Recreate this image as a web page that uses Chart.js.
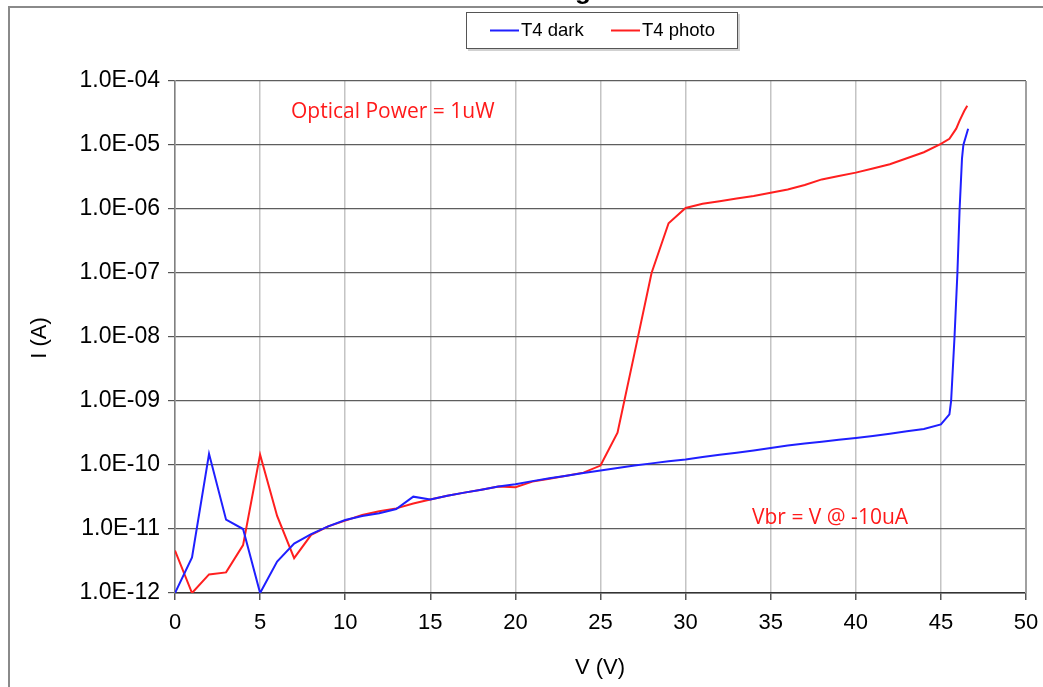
<!DOCTYPE html>
<html>
<head>
<meta charset="utf-8">
<script src="https://cdn.jsdelivr.net/npm/chart.js@4"></script>
<style>
html,body{margin:0;padding:0;background:#fff;}
canvas{display:block;}
</style>
</head>
<body>
<canvas id="c" width="1043" height="687"></canvas>
<script>
// ---- data ----
const vDark = [0,1,2,3,4,5,6,7,8,9,10,11,12,13,14,15,16,17,18,19,20,21,22,23,24,25,26,27,28,29,30,31,32,33,34,35,36,37,38,39,40,41,42,43,44,45,45.5,45.6,45.8,45.97,46.1,46.24,46.32,46.6];
const iDark = [1.0e-12,3.6e-12,1.5e-10,1.4e-11,1.0e-11,1.0e-12,3.1e-12,5.9e-12,8.3e-12,1.1e-11,1.38e-11,1.6e-11,1.76e-11,2.05e-11,3.2e-11,2.9e-11,3.3e-11,3.7e-11,4.1e-11,4.6e-11,5.0e-11,5.6e-11,6.2e-11,6.8e-11,7.5e-11,8.2e-11,9.0e-11,9.8e-11,1.06e-10,1.14e-10,1.22e-10,1.33e-10,1.44e-10,1.55e-10,1.69e-10,1.85e-10,2.01e-10,2.16e-10,2.3e-10,2.47e-10,2.65e-10,2.85e-10,3.09e-10,3.36e-10,3.65e-10,4.3e-10,6.2e-10,1.0e-9,1.0e-8,1.0e-7,1.0e-6,6.2e-6,1.0e-5,1.8e-5];
const vPhoto = [0,1,2,3,4,5,6,7,8,9,10,11,12,13,14,15,16,17,18,19,20,21,22,23,24,25,26,27,28,29,30,31,32,33,34,35,36,37,38,39,40,41,42,43,44,45,45.5,45.9,46.1,46.37,46.55];
const iPhoto = [4.6e-12,1.0e-12,1.95e-12,2.1e-12,5.6e-12,1.45e-10,1.6e-11,3.5e-12,8.1e-12,1.1e-11,1.35e-11,1.65e-11,1.9e-11,2.1e-11,2.5e-11,2.9e-11,3.3e-11,3.7e-11,4.1e-11,4.6e-11,4.5e-11,5.5e-11,6.1e-11,6.8e-11,7.6e-11,9.8e-11,3.2e-10,5.6e-9,1.0e-7,6.0e-7,1.04e-6,1.21e-6,1.32e-6,1.46e-6,1.6e-6,1.79e-6,2.02e-6,2.37e-6,2.9e-6,3.28e-6,3.7e-6,4.28e-6,5.0e-6,6.2e-6,7.7e-6,1.04e-5,1.25e-5,1.8e-5,2.4e-5,3.4e-5,4.1e-5];
const seriesNames = ['T4 dark','T4 photo'];
const xTickValues = [0,5,10,15,20,25,30,35,40,45,50];
const yTickValues = [1e-12,1e-11,1e-10,1e-9,1e-8,1e-7,1e-6,1e-5,1e-4];
const yTickLabels = ['1.0E-12','1.0E-11','1.0E-10','1.0E-09','1.0E-08','1.0E-07','1.0E-06','1.0E-05','1.0E-04'];
const xTitle = 'V (V)';
const yTitle = 'I (A)';
const chartTitle = 'Breakdown Voltage';
const notes = ['Optical Power = 1uW','Vbr = V @ -10uA'];

const BLUE = '#1f1fff', RED = '#ff1f1f';
const FONT = 'Liberation Sans, Arial, sans-serif';

const decor = {
  id:'decor',
  beforeDraw(chart){
    const c = chart.ctx;
    c.save();
    c.fillStyle = '#fff';
    c.fillRect(0,0,chart.width,chart.height);
    c.restore();
  },
  afterDraw(chart){
    const c = chart.ctx;
    const a = chart.chartArea;
    c.save();
    // cut-off title (only descender visible)
    c.font = 'bold 26px ' + FONT;
    c.fillStyle = '#000';
    c.textBaseline = 'alphabetic';
    c.textAlign = 'left';
    const pre = chartTitle.slice(0, chartTitle.indexOf('g'));
    const wPre = c.measureText(pre).width;
    const wg = c.measureText('g').width;
    c.fillText(chartTitle, 583 - wPre - wg/2, -1);
    // outer frame
    c.strokeStyle = '#8a8a8a';
    c.lineWidth = 2;
    c.beginPath();
    c.moveTo(9, chart.height);
    c.lineTo(9, 7);
    c.lineTo(chart.width, 7);
    c.stroke();
    // plot right border
    c.strokeStyle = '#a0a0a0';
    c.lineWidth = 2;
    c.beginPath();
    c.moveTo(a.right, a.top);
    c.lineTo(a.right, a.bottom);
    c.stroke();
    // legend box
    c.fillStyle = 'rgba(0,0,0,0.18)';
    c.fillRect(468, 14, 272, 37);
    c.fillStyle = '#fff';
    c.fillRect(466, 12, 272, 37);
    c.strokeStyle = '#555';
    c.lineWidth = 1;
    c.strokeRect(466.5, 12.5, 271, 36);
    const items = [[490, 521, BLUE], [611, 642, RED]];
    c.font = '18.5px ' + FONT;
    c.textBaseline = 'middle';
    items.forEach((it, i) => {
      c.strokeStyle = it[2];
      c.lineWidth = 2;
      c.beginPath();
      c.moveTo(it[0], 30.5);
      c.lineTo(it[0] + 29, 30.5);
      c.stroke();
      c.fillStyle = '#000';
      c.fillText(seriesNames[i], it[1], 31);
    });
    // axis titles
    c.font = '22px ' + FONT;
    c.fillStyle = '#000';
    c.textAlign = 'center';
    c.fillText(xTitle, 600, 668);
    c.save();
    c.translate(40, 338);
    c.rotate(-Math.PI/2);
    c.fillText(yTitle, 0, 0);
    c.restore();
    // annotations
    c.fillStyle = '#ff1a1a';
    c.font = '21px "Open Sans", sans-serif';
    c.textAlign = 'left';
    c.fillText(notes[0], 291, 112);
    c.fillText(notes[1], 752, 518);
    c.restore();
  }
};

new Chart(document.getElementById('c'), {
  type: 'scatter',
  data: {
    datasets: [
      {label: seriesNames[0], data: vDark.map((v,i)=>({x:v, y:iDark[i]})), borderColor: BLUE, backgroundColor: BLUE, showLine:true, pointRadius:0, borderWidth:2, tension:0},
      {label: seriesNames[1], data: vPhoto.map((v,i)=>({x:v, y:iPhoto[i]})), borderColor: RED, backgroundColor: RED, showLine:true, pointRadius:0, borderWidth:2, tension:0}
    ]
  },
  options: {
    responsive:false,
    animation:false,
    devicePixelRatio:1,
    layout:{padding:{left:0, right:17, top:81, bottom:0}},
    plugins:{legend:{display:false}, title:{display:false}, tooltip:{enabled:false}},
    scales:{
      x:{
        type:'linear', min:0, max:50,
        afterBuildTicks: s => { s.ticks = xTickValues.map(v=>({value:v})); },
        afterFit: s => { s.height = 94; s.paddingLeft = 0; s.paddingRight = 0; },
        ticks:{font:{family:FONT, size:22}, color:'#000', padding:10, maxRotation:0, autoSkip:false},
        grid:{color:'#c4c4c4', lineWidth:1.5, tickLength:7, tickColor:'#555'},
        border:{color:'#333', width:1.5}
      },
      y:{
        type:'logarithmic', min:1e-12, max:1e-4,
        afterBuildTicks: s => { s.ticks = yTickValues.map(v=>({value:v})); },
        afterFit: s => { s.width = 175; s.paddingTop = 0; s.paddingBottom = 0; },
        ticks:{font:{family:FONT, size:23}, color:'#000', padding:8, autoSkip:false,
          callback:(v,i)=> yTickLabels[yTickValues.findIndex(t=>Math.abs(Math.log10(t)-Math.log10(v))<1e-6)] ?? ''},
        grid:{color:'#5e5e5e', lineWidth:1.2, tickLength:7, tickColor:'#555'},
        border:{color:'#808080', width:1.5}
      }
    }
  },
  plugins:[decor]
});
</script>
</body>
</html>
